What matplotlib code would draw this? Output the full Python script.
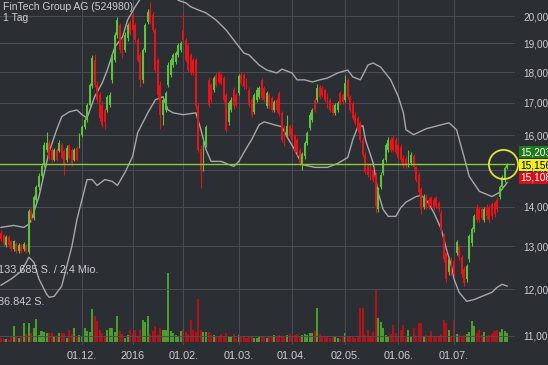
import numpy as np
import matplotlib.pyplot as plt
from matplotlib.ticker import FixedLocator, NullLocator

plt.rcParams['font.family'] = ['Liberation Sans', 'DejaVu Sans']

title = "FinTech Group AG (524980)"
period = "1 Tag"

# daily candles, one per trading day (mid Oct 2015 .. end of Jul 2016)
opens = [
    13.33, 13.27, 13.03, 13.24, 13.12, 12.93, 13.07, 12.88, 13.03, 12.93,
    13.03, 12.86, 13.90, 13.70, 14.19, 14.52, 14.84, 15.15, 15.58, 15.78,
    15.58, 15.29, 15.58, 15.55, 15.72, 15.55, 15.29, 15.70, 15.58, 15.29,
    15.64, 15.67, 16.02, 16.26, 16.47, 16.94, 17.55, 18.42, 17.58, 17.26,
    16.94, 16.78, 16.78, 16.94, 17.75, 18.42, 19.30, 19.67, 19.12, 18.77,
    19.20, 19.78, 20.04, 19.67, 19.12, 18.60, 17.75, 18.77, 19.78, 20.23,
    20.04, 19.48, 18.42, 17.58, 16.63, 16.78, 17.58, 17.91, 18.25, 18.35,
    18.60, 18.77, 19.48, 19.12, 18.95, 18.60, 18.42, 18.42, 16.90, 15.61,
    15.04, 15.72, 17.75, 17.58, 17.42, 17.91, 17.98, 17.91, 17.81, 17.26,
    16.40, 16.78, 17.42, 17.26, 17.32, 17.91, 17.91, 17.75, 17.42, 17.10,
    16.72, 17.10, 17.20, 17.75, 17.48, 16.90, 17.26, 17.16, 16.78, 17.10,
    17.32, 16.69, 16.26, 15.98, 16.29, 16.23, 15.98, 15.87, 15.58, 15.15,
    15.38, 15.78, 16.23, 16.47, 17.10, 17.10, 17.52, 17.48, 17.42, 17.26,
    17.10, 16.94, 16.69, 16.78, 17.32, 17.26, 17.10, 17.75, 17.20, 17.00,
    16.63, 16.53, 16.38, 15.87, 15.43, 15.12, 15.12, 15.01, 14.87, 13.93,
    14.54, 14.92, 15.29, 15.58, 15.87, 15.93, 15.87, 15.72, 15.67, 15.35,
    15.32, 15.15, 15.20, 15.38, 15.07, 14.87, 14.46, 14.00, 14.27, 14.19,
    14.22, 14.19, 14.22, 14.09, 13.85, 13.25, 12.84, 12.38, 12.69, 12.65,
    12.84, 13.00, 12.74, 12.46, 12.23, 12.69, 13.08, 13.42, 14.00, 13.93,
    13.93, 13.67, 14.00, 13.98, 14.06, 14.09, 14.19, 14.27, 14.52, 14.73,
    15.06]
closes = [
    13.17, 13.07, 13.22, 13.03, 12.93, 13.12, 12.88, 13.03, 12.88, 13.05,
    12.88, 13.88, 13.65, 14.27, 14.52, 14.84, 15.12, 15.72, 15.78, 15.35,
    15.29, 15.58, 15.29, 15.78, 15.35, 15.15, 15.64, 15.35, 15.20, 15.58,
    15.29, 16.02, 16.26, 16.47, 16.94, 17.58, 18.50, 17.58, 17.10, 16.53,
    16.32, 16.41, 17.20, 17.26, 18.60, 19.30, 19.85, 18.77, 18.60, 19.30,
    19.67, 19.37, 19.48, 19.12, 18.42, 17.75, 18.77, 19.67, 20.15, 19.78,
    19.48, 18.08, 17.26, 16.63, 17.10, 17.32, 18.25, 18.42, 18.60, 18.66,
    18.95, 19.00, 19.12, 18.42, 18.08, 17.98, 17.98, 16.90, 15.58, 15.01,
    15.87, 16.26, 16.94, 17.10, 17.81, 17.58, 17.68, 17.65, 17.10, 16.17,
    17.00, 17.10, 16.90, 16.94, 17.88, 17.65, 17.52, 17.52, 16.94, 16.63,
    17.26, 17.42, 17.48, 17.16, 17.10, 17.32, 16.90, 16.78, 17.04, 16.78,
    16.66, 15.87, 15.75, 16.29, 16.02, 15.87, 15.58, 15.50, 15.20, 15.46,
    15.78, 16.08, 16.63, 16.78, 16.78, 17.48, 17.20, 17.26, 17.10, 16.90,
    16.78, 16.69, 16.94, 17.00, 17.00, 17.04, 17.65, 17.20, 16.78, 16.53,
    16.38, 16.17, 15.87, 15.43, 14.95, 14.87, 14.79, 14.73, 14.03, 14.46,
    14.87, 15.29, 15.72, 15.87, 15.58, 15.58, 15.52, 15.35, 15.29, 15.12,
    15.10, 15.50, 15.43, 15.07, 14.73, 14.38, 13.93, 14.27, 14.00, 14.00,
    14.06, 13.98, 14.03, 13.93, 13.42, 12.69, 12.23, 12.69, 12.38, 12.34,
    13.10, 12.74, 12.34, 12.15, 12.52, 13.25, 13.42, 13.75, 13.67, 13.67,
    13.72, 13.93, 13.75, 13.67, 13.75, 13.80, 13.93, 14.52, 14.79, 15.06,
    15.156]
highs = [
    13.40, 13.30, 13.27, 13.28, 13.15, 13.16, 13.10, 13.08, 13.06, 13.10,
    13.05, 13.95, 13.98, 14.32, 14.58, 14.90, 15.18, 15.80, 16.10, 15.85,
    15.65, 15.64, 15.62, 15.86, 15.76, 15.60, 15.70, 15.75, 15.62, 15.63,
    15.68, 16.08, 16.32, 16.55, 17.00, 17.65, 18.60, 18.62, 17.70, 17.35,
    17.05, 16.85, 17.26, 17.35, 18.70, 19.40, 19.95, 19.75, 19.20, 19.40,
    19.75, 19.85, 20.10, 19.75, 19.20, 18.70, 18.85, 19.75, 20.25, 20.55,
    20.15, 19.55, 18.50, 17.70, 17.18, 17.40, 18.35, 18.50, 18.68, 18.75,
    19.02, 19.10, 20.10, 19.20, 19.02, 18.68, 18.50, 18.50, 17.00, 15.70,
    15.95, 16.32, 17.85, 17.65, 17.88, 17.98, 18.05, 17.98, 17.88, 17.32,
    17.06, 17.18, 17.50, 17.32, 17.95, 18.00, 17.98, 17.82, 17.50, 17.18,
    17.32, 17.50, 17.55, 17.82, 17.55, 17.40, 17.32, 17.22, 17.10, 17.16,
    17.40, 16.75, 16.32, 16.63, 16.35, 16.30, 16.05, 15.92, 15.64, 15.52,
    15.84, 16.14, 16.70, 16.85, 17.16, 17.60, 17.58, 17.54, 17.48, 17.32,
    17.16, 17.00, 17.00, 17.06, 17.38, 17.32, 17.90, 17.82, 17.26, 17.06,
    16.70, 16.60, 16.45, 15.94, 15.50, 15.18, 15.18, 15.08, 14.94, 14.52,
    14.93, 15.35, 15.78, 15.94, 15.94, 16.00, 15.94, 15.78, 15.74, 15.42,
    15.38, 15.58, 15.50, 15.44, 15.12, 14.94, 14.52, 14.34, 14.34, 14.26,
    14.28, 14.25, 14.28, 14.15, 13.92, 13.32, 12.90, 12.75, 12.75, 12.72,
    13.16, 13.06, 12.80, 12.52, 12.58, 13.30, 13.48, 13.82, 14.06, 14.00,
    14.00, 14.00, 14.06, 14.04, 14.12, 14.16, 14.26, 14.58, 14.85, 15.12,
    15.20]
lows = [
    13.12, 13.02, 12.98, 12.99, 12.88, 12.90, 12.84, 12.85, 12.83, 12.90,
    12.84, 12.82, 13.60, 13.66, 14.12, 14.45, 14.78, 15.08, 15.50, 15.28,
    15.22, 15.24, 15.24, 15.50, 15.30, 14.87, 15.22, 15.30, 15.12, 15.24,
    15.24, 15.62, 15.96, 16.20, 16.42, 16.88, 17.48, 17.50, 17.02, 16.45,
    16.25, 16.20, 16.70, 16.88, 17.65, 18.35, 19.20, 18.65, 18.50, 18.70,
    19.10, 19.30, 19.40, 19.05, 18.35, 17.50, 17.65, 18.70, 19.70, 19.70,
    19.40, 18.00, 17.15, 16.20, 16.30, 16.70, 17.50, 17.85, 18.18, 18.28,
    18.52, 18.70, 19.05, 18.35, 18.00, 17.90, 17.90, 16.82, 15.50, 14.50,
    14.98, 15.65, 16.88, 17.02, 17.35, 17.50, 17.60, 17.58, 17.02, 16.10,
    16.32, 16.70, 16.82, 16.86, 17.25, 17.58, 17.45, 17.45, 16.86, 16.55,
    16.65, 17.04, 17.14, 17.10, 17.02, 16.84, 16.82, 16.70, 16.72, 16.70,
    16.60, 15.80, 15.68, 15.92, 15.95, 15.80, 15.50, 15.42, 15.12, 15.00,
    15.32, 15.72, 16.16, 16.40, 16.72, 17.04, 17.14, 17.20, 17.04, 16.84,
    16.72, 16.62, 16.62, 16.72, 16.94, 16.98, 17.04, 17.14, 16.72, 16.46,
    16.32, 16.10, 15.80, 15.36, 14.88, 14.80, 14.72, 14.66, 13.85, 13.86,
    14.48, 14.86, 15.22, 15.52, 15.52, 15.52, 15.46, 15.28, 15.22, 15.06,
    15.04, 15.08, 15.14, 15.00, 14.66, 14.30, 13.80, 13.94, 13.94, 13.94,
    14.00, 13.92, 13.96, 13.86, 13.36, 12.62, 12.16, 12.32, 12.32, 12.28,
    12.78, 12.68, 12.28, 12.08, 12.16, 12.62, 13.02, 13.36, 13.60, 13.60,
    13.66, 13.60, 13.68, 13.60, 13.68, 13.74, 13.86, 14.20, 14.46, 14.66,
    15.02]
volumes = [
    7700, 5800, 5800, 3900, 9700, 31000, 11600, 7700, 11600, 36800,
    15500, 36800, 17400, 27100, 44600, 13600, 21300, 19400, 17400, 17400,
    17400, 9700, 11600, 17400, 17400, 17400, 7700, 23200, 15500, 27100,
    11600, 13600, 9700, 27100, 21300, 19400, 63900, 50400, 40700, 23200,
    17400, 11600, 23200, 27100, 27100, 19400, 50400, 21300, 15500, 7700,
    13600, 23200, 15500, 23200, 11600, 23200, 42600, 38700, 50400, 15500,
    21300, 31000, 13600, 27100, 23200, 23200, 133685, 21300, 17400, 13600,
    11600, 21300, 25200, 19400, 15500, 42600, 23200, 19400, 83300, 23200,
    19400, 19400, 19400, 13600, 13600, 9700, 11600, 15500, 9700, 17400,
    11600, 9700, 15500, 7700, 13600, 9700, 11600, 7700, 9700, 11600,
    7700, 7700, 9700, 11600, 9700, 7700, 11600, 9700, 13600, 11600,
    13600, 11600, 11600, 13600, 15500, 11600, 13600, 15500, 11600, 13600,
    15500, 13600, 17400, 17400, 21300, 65900, 15500, 11600, 9700, 11600,
    7700, 9700, 9700, 7700, 5800, 11600, 17400, 9700, 11600, 9700,
    7700, 9700, 65900, 65900, 13600, 23200, 11600, 19400, 100700, 46500,
    38700, 27100, 13600, 11600, 15500, 32900, 17400, 11600, 23200, 32900,
    9700, 23200, 11600, 27100, 11600, 36800, 36800, 11600, 13600, 9700,
    21300, 11600, 9700, 11600, 15500, 42600, 36800, 23200, 11600, 42600,
    15500, 13600, 9700, 13600, 15500, 19400, 40700, 31000, 17400, 23200,
    13600, 19400, 11600, 13600, 15500, 21300, 23200, 19400, 25200, 21300,
    17400]

# Bollinger bands (trading-day index, price)
upper_idx = [0, 5, 9, 11, 12, 15, 19, 22, 24, 27, 30, 32, 34, 37, 40, 42, 45, 48, 50, 53,
             56, 59, 63, 67, 70, 73, 75, 78, 81, 85, 89, 92, 96, 98, 102, 105, 109, 111, 115, 117,
             120, 123, 126, 129, 133, 137, 139, 142, 145, 147, 150, 154, 157, 159, 160, 163, 168,
             174, 177, 180, 183, 185, 189, 194, 197, 200]
upper_band = [13.47, 13.52, 13.47, 13.55, 13.67, 14.27, 15.52, 16.17, 16.57, 16.72, 16.78, 16.63,
              16.53, 17.2, 17.65, 18.08, 18.88, 19.23, 19.85, 20.35, 20.8, 21.2, 21.3, 21.0, 20.6,
              20.5, 20.35, 20.23, 20.12, 19.85, 19.48, 19.12, 18.66, 18.6, 18.25, 18.08, 17.98,
              18.11, 17.98, 17.75, 17.75, 17.68, 17.75, 17.81, 17.98, 18.08, 17.85, 17.75, 18.25,
              18.32, 18.18, 17.75, 17.2, 16.69, 16.17, 16.02, 16.2, 16.32, 16.38, 16.17, 15.36,
              14.82, 14.41, 14.27, 14.38, 14.65]
lower_idx = [0, 4, 8, 10, 11, 13, 15, 18, 19, 21, 24, 26, 28, 30, 32, 34, 36, 38, 41, 44,
             46, 49, 52, 54, 58, 61, 64, 66, 68, 72, 77, 79, 81, 83, 87, 90, 92, 94, 96, 99,
             102, 104, 108, 111, 113, 116, 119, 124, 129, 133, 137, 139, 141, 143, 144, 147, 149,
             151, 153, 156, 158, 160, 164, 166, 168, 171, 174, 176, 178, 179, 181, 184, 187, 190,
             194, 196, 198, 200]
lower_band = [12.09, 12.23, 12.41, 12.62, 12.74, 12.62, 12.23, 11.89, 11.82, 11.84, 12.07, 12.53,
              13.0, 13.67, 14.19, 14.73, 14.73, 14.57, 14.73, 14.68, 14.57, 14.93, 15.38, 16.08,
              16.69, 17.1, 17.2, 16.78, 16.69, 16.63, 16.69, 16.17, 15.58, 15.24, 15.24, 15.15,
              15.1, 15.24, 15.5, 15.87, 16.32, 16.41, 16.32, 16.26, 15.96, 15.58, 15.15, 15.07,
              15.07, 15.18, 15.35, 15.87, 16.26, 16.29, 15.87, 15.21, 14.38, 13.93, 13.75, 13.75,
              13.98, 14.12, 14.27, 14.3, 14.19, 13.85, 13.42, 12.93, 12.53, 12.23, 11.93, 11.73,
              11.77, 11.84, 11.93, 12.04, 12.11, 12.07]

price_ticks = [11, 12, 13, 14, 15, 16, 17, 18, 19, 20]
price_labels = ["11,00", "12,00", "13,00", "14,00", "15,00", "16,00", "17,00", "18,00", "19,00", "20,00"]
date_idx = [32, 52, 72, 94, 115, 136, 157, 179]
date_labels = ["01.12.", "2016", "01.02.", "01.03.", "01.04.", "02.05.", "01.06.", "01.07."]
last_price = 15.156
quotes = ["15,203", "15,156", "15,108"]
vol_labels = ["133.685 S. / 2,4 Mio.", "86.842 S."]

BG = '#2b2e33'
GREEN = '#5cc43a'
RED = '#e3141c'
VGREEN = '#4b9e2a'
VRED = '#b3121b'
TXT = '#cfcfcf'

W, H = 548, 365
fig = plt.figure(figsize=(W / 100, H / 100), dpi=100, facecolor=BG)
ax = fig.add_axes([0, 20 / H, 515 / W, 345 / H])
axv = ax.twinx()
ax.set_zorder(axv.get_zorder() + 1)
ax.patch.set_visible(False)
axv.set_facecolor(BG)

o = np.array(opens)
c = np.array(closes)
idx = np.arange(len(c))
rising = c >= o
col = np.where(rising, GREEN, RED)
vcol = np.where(rising, VGREEN, VRED)

# volume at the bottom
axv.bar(idx, volumes, width=0.8, color=vcol, linewidth=0)
axv.set_ylim(-5800, 662500)
axv.set_yticks([])
for s in axv.spines.values():
    s.set_visible(False)

# price panel
ax.set_yscale('log')
ax.set_ylim(10.81, 20.61)
ax.set_xlim(-0.4, 203.1)
ax.yaxis.set_major_locator(FixedLocator(price_ticks))
ax.yaxis.set_minor_locator(NullLocator())
ax.set_yticklabels(price_labels)
ax.yaxis.tick_right()
ax.set_xticks(date_idx)
ax.set_xticklabels(date_labels)
ax.tick_params(axis='y', length=0, pad=6, labelsize=7.2, labelcolor=TXT)
ax.tick_params(axis='x', length=0, pad=4, labelsize=7.8, labelcolor=TXT)
ax.grid(True, color='#4a4e55', lw=0.7)
ax.set_axisbelow(True)
for s in ax.spines.values():
    s.set_visible(False)

ax.plot(upper_idx, upper_band, color='#a8a8a8', lw=1.0, zorder=2)
ax.plot(lower_idx, lower_band, color='#a8a8a8', lw=1.0, zorder=2)

ax.vlines(idx, lows, highs, colors=col, lw=0.8, zorder=3)
ax.bar(idx, np.abs(c - o), bottom=np.minimum(o, c), width=0.75, color=col,
       linewidth=0, zorder=4)

ax.axhline(last_price, color='#86cd3a', lw=1.0, zorder=5)
ax.plot(idx[-1] - 1.5, last_price, 'o', ms=21, mfc='none', mec='#e5e23a', mew=1.3,
        zorder=6, clip_on=False)

# texts
fig.text(3 / W, 1 - 7 / H, title, fontsize=7.5, color=TXT, va='center', ha='left')
fig.text(3 / W, 1 - 18 / H, period, fontsize=7.5, color=TXT, va='center', ha='left')
fig.text(-2 / W, 1 - 269 / H, vol_labels[0], fontsize=7.8, color=TXT, va='center', ha='left')
fig.text(-2 / W, 1 - 302 / H, vol_labels[1], fontsize=7.8, color=TXT, va='center', ha='left')

box_style = [('#1d7a1d', 'white', 152), ('#f2ef1a', 'black', 165), ('#d5121b', 'white', 178)]
for q, (fc, tc, yy) in zip(quotes, box_style):
    fig.text(520 / W, 1 - yy / H, q, fontsize=7.3, color=tc, va='center', ha='left',
             bbox=dict(boxstyle='square,pad=0.08', fc=fc, ec='none'))

fig.savefig('out.png', dpi=100, facecolor=BG)
